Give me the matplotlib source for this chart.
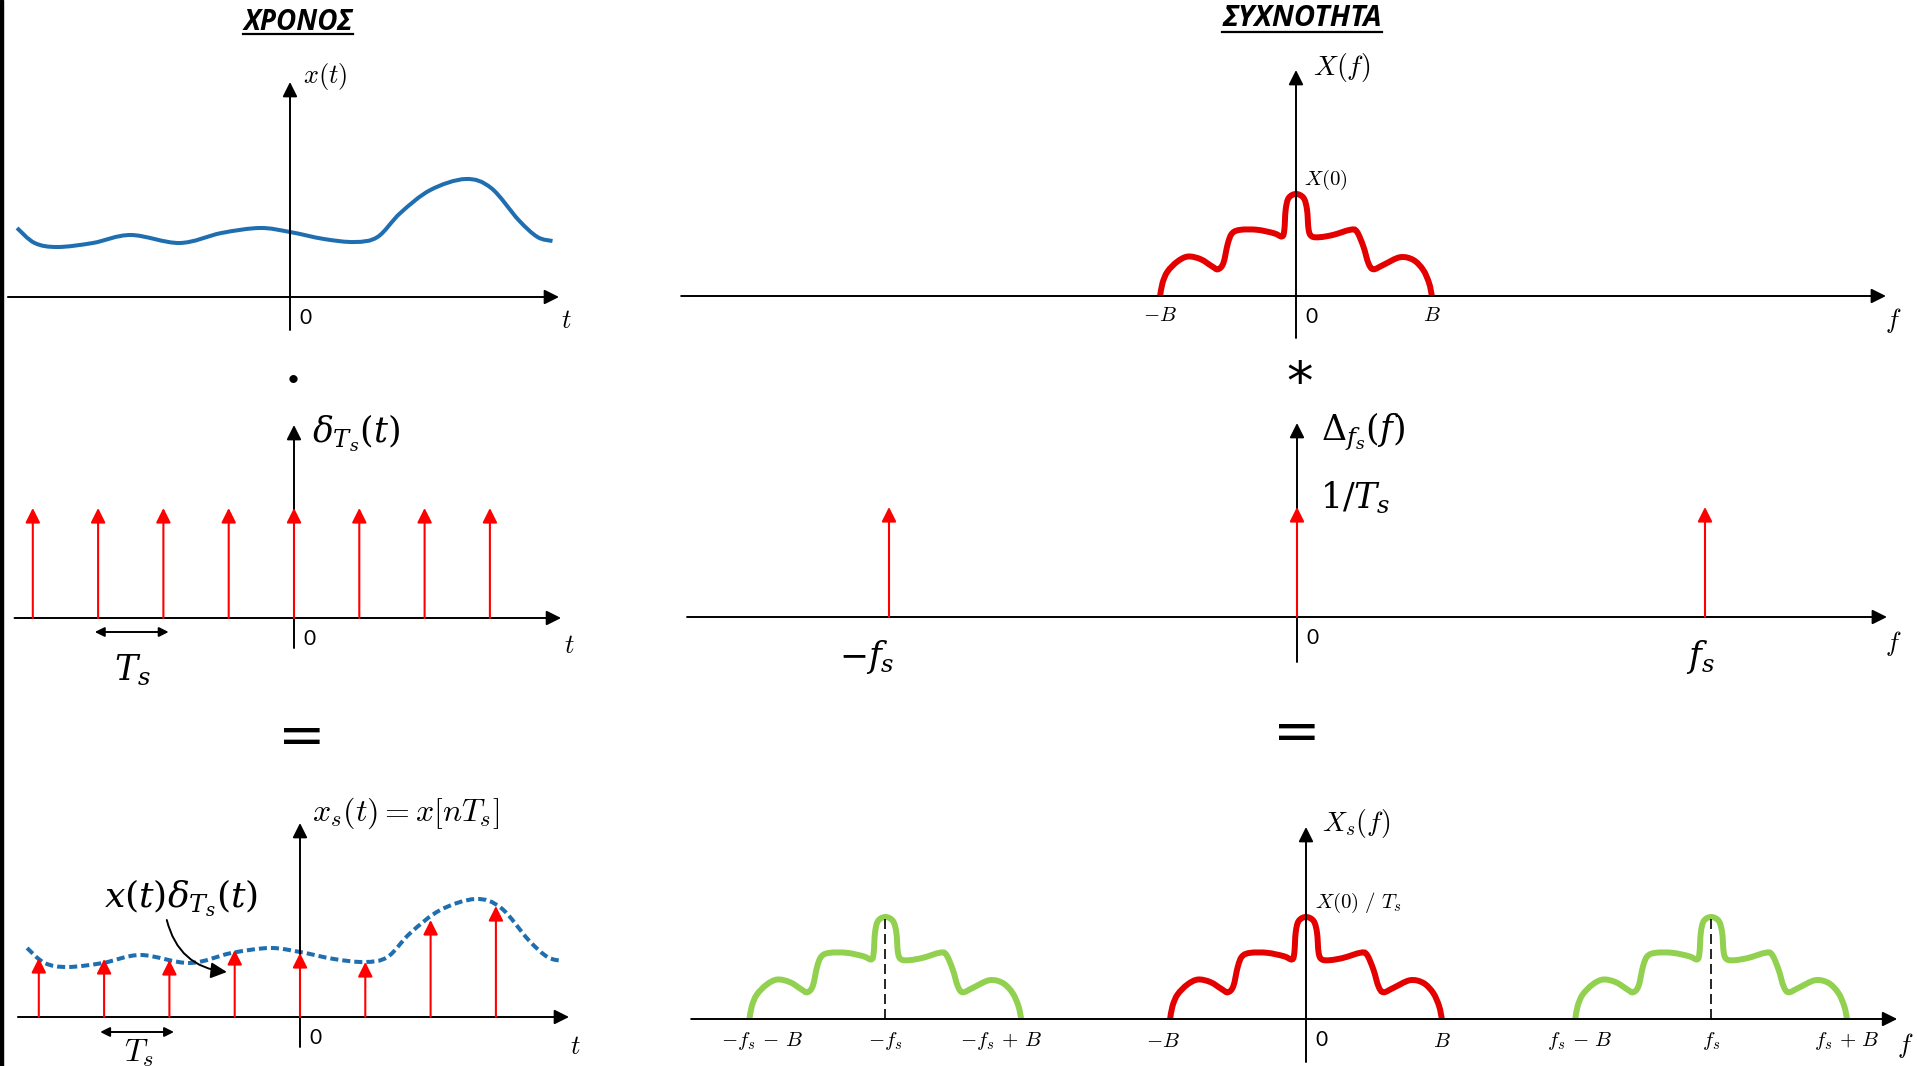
import numpy as np
import matplotlib
matplotlib.use('Agg')
import matplotlib.pyplot as plt
from matplotlib.path import Path
from matplotlib.patches import PathPatch, Rectangle
from matplotlib.lines import Line2D

W, H = 1917, 1066

# ---------------- data ----------------
# x(t): time in units of Ts, amplitude in arbitrary units
sig_t = [-4.18, -3.91, -3.56, -3.02, -2.44, -1.69, -1.05, -0.46, 0.0, 0.52,
         0.99, 1.34, 1.69, 2.15, 2.69, 3.08, 3.50, 3.79, 4.02]
sig_x = [0.69, 0.54, 0.50, 0.54, 0.62, 0.54, 0.64, 0.69, 0.65, 0.58,
         0.55, 0.60, 0.84, 1.07, 1.18, 1.09, 0.77, 0.60, 0.56]

# impulse train and samples
n_samp = [-4, -3, -2, -1, 0, 1, 2, 3]
samp_x = [0.59, 0.58, 0.57, 0.67, 0.64, 0.55, 0.97, 1.11]
comb_h = 1.10

# spectrum shape, u in units of B, v in units of the peak X(0)
spec_u = [-1.0, -0.983, -0.946, -0.873, -0.795, -0.702, -0.616, -0.575, -0.535,
          -0.501, -0.469, -0.408, -0.286, -0.164, -0.103, -0.086, -0.076, -0.054,
          0.0, 0.056, 0.081, 0.093, 0.117, 0.178, 0.276, 0.399, 0.447, 0.496,
          0.533, 0.570, 0.643, 0.765, 0.863, 0.936, 0.980, 1.0]
spec_v = [0.0, 0.125, 0.239, 0.338, 0.387, 0.361, 0.289, 0.262, 0.321,
          0.518, 0.616, 0.649, 0.649, 0.616, 0.584, 0.649, 0.846, 0.961,
          1.0, 0.961, 0.846, 0.649, 0.584, 0.577, 0.600, 0.649, 0.633, 0.485,
          0.321, 0.262, 0.305, 0.380, 0.354, 0.256, 0.125, 0.0]
peak = 1.02
B = 0.333                       # bandwidth in units of fs
delta_f = [-1, 0, 1]            # Δ_fs(f) impulses, units of fs
copy_c = [-1.031, 0.0, 0.993]   # spectral copies in Xs(f)
copy_col = ['#92d050', '#e50000', '#92d050']

tr_tick_pos = [-B, B]
tr_tick_lab = [r'$-B$', r'$B$']
br_tick_pos = [copy_c[0] - B, copy_c[0], copy_c[0] + B, -B, B,
               copy_c[2] - B, copy_c[2], copy_c[2] + B]
br_tick_lab = [r'$-f_s\,-\,B$', r'$-f_s$', r'$-f_s\,+\,B$', r'$-B$', r'$B$',
               r'$f_s\,-\,B$', r'$f_s$', r'$f_s\,+\,B$']
br_tick_dx = [0.03, 0, -0.05, -0.017, 0, 0.01, 0, 0]   # label nudges as drawn

BLUE = '#1f6fb0'
RED = '#ff0000'
SANS = ['Lato', 'DejaVu Sans']

fig = plt.figure(figsize=(W / 100, H / 100), dpi=100)
fig.add_artist(Rectangle((0, 0), 3 / W, 1, transform=fig.transFigure,
                         color='black'))


def panel(x0, y0, sx, sy, xlim, ylim):
    # data (0,0) lands on pixel (x0, y0), counted from the top-left corner
    l, r = x0 + xlim[0] * sx, x0 + xlim[1] * sx
    b, t = y0 - ylim[0] * sy, y0 - ylim[1] * sy
    ax = fig.add_axes([l / W, 1 - b / H, (r - l) / W, (b - t) / H])
    ax.set_xlim(*xlim)
    ax.set_ylim(*ylim)
    ax.set_axis_off()
    return ax


def arrow(ax, xy, xytext, color='black', lw=1.4, ms=22, style='-|>', **kw):
    ax.annotate('', xy=xy, xytext=xytext, annotation_clip=False,
                arrowprops=dict(arrowstyle=style, color=color, lw=lw,
                                mutation_scale=ms, shrinkA=0, shrinkB=0, **kw))


def axes_lines(ax, h0, h1, v0, v1):
    arrow(ax, (h1, 0), (h0, 0))
    arrow(ax, (0, v1), (0, v0))
    ax.annotate('0', xy=(0, 0), xytext=(15, -21), textcoords='offset pixels',
                ha='center', va='center', fontsize=15, family=SANS)


def smooth_path(xs, ys):
    # Catmull-Rom through the read points, drawn as Bezier segments
    p = np.column_stack([xs, ys])
    verts, codes = [p[0]], [Path.MOVETO]
    for i in range(len(p) - 1):
        p0 = p[i - 1] if i > 0 else p[i]
        p3 = p[i + 2] if i + 2 < len(p) else p[i + 1]
        verts += [p[i] + (p[i + 1] - p0) / 6, p[i + 1] - (p3 - p[i]) / 6, p[i + 1]]
        codes += [Path.CURVE4] * 3
    return Path(verts, codes)


def label(px, py, s, size=15, math='cm', **kw):
    return fig.text(px / W, 1 - py / H, s, ha='center', va='center',
                    fontsize=size, math_fontfamily=math, **kw)


# ---------------- time domain ----------------
sx_t, sy_t = 65.3, 100
ax1 = panel(290, 297, sx_t, sy_t, (-4.6, 4.6), (-0.5, 2.4))
axes_lines(ax1, -4.32, 4.12, -0.33, 2.15)
ax1.add_patch(PathPatch(smooth_path(sig_t, sig_x), fill=False, color=BLUE,
                        lw=2.9, clip_on=False))

ax2 = panel(294, 618, sx_t, sy_t, (-4.6, 4.6), (-0.5, 2.4))
axes_lines(ax2, -4.28, 4.09, -0.30, 1.93)
for n in n_samp:
    arrow(ax2, (n, comb_h), (n, 0), color=RED, lw=1.5)
arrow(ax2, (-1.92, -0.14), (-3.05, -0.14), lw=1.4, ms=14, style='<|-|>')

ax3 = panel(300, 1017, sx_t, sy_t, (-4.6, 4.6), (-0.5, 2.4))
axes_lines(ax3, -4.32, 4.12, -0.30, 1.94)
ax3.add_patch(PathPatch(smooth_path(sig_t, sig_x), fill=False, color=BLUE,
                        lw=2.9, ls=(0, (2, 1)), capstyle='butt', clip_on=False))
for n, v in zip(n_samp, samp_x):
    arrow(ax3, (n, v), (n, 0), color=RED, lw=1.5)
arrow(ax3, (-1.93, -0.15), (-3.06, -0.15), lw=1.4, ms=14, style='<|-|>')
arrow(ax3, (-1.12, 0.45), (-2.04, 0.97), lw=1.4, ms=24,
      connectionstyle='arc3,rad=0.35')

# ---------------- frequency domain ----------------
sx_f, sy_f = 408, 100
ax4 = panel(1296, 296, sx_f, sy_f, (-1.6, 1.6), (-0.5, 2.4))
axes_lines(ax4, -1.507, 1.446, -0.42, 2.26)
ax4.add_patch(PathPatch(smooth_path(np.array(spec_u) * B, np.array(spec_v) * peak),
                        fill=False, color='#e50000', lw=4.3, clip_on=False))
for p, s in zip(tr_tick_pos, tr_tick_lab):
    ax4.text(p, -0.19, s, ha='center', va='center', fontsize=15,
             math_fontfamily='cm')

ax5 = panel(1297, 617, sx_f, sy_f, (-1.6, 1.6), (-0.5, 2.4))
axes_lines(ax5, -1.495, 1.446, -0.45, 1.94)
for f in delta_f:
    arrow(ax5, (f, comb_h), (f, 0), color=RED, lw=1.5)

ax6 = panel(1306, 1019, sx_f, sy_f, (-1.6, 1.6), (-0.5, 2.4))
axes_lines(ax6, -1.507, 1.449, -0.43, 1.92)
for c, col in zip(copy_c, copy_col):
    ax6.add_patch(PathPatch(smooth_path(np.array(spec_u) * B + c,
                                        np.array(spec_v) * peak),
                            fill=False, color=col, lw=4.3, clip_on=False))
    if c != 0:
        ax6.plot([c, c], [0, peak], color='black', lw=1.2, ls=(0, (6, 3)),
                 clip_on=False)
for p, s, dx in zip(br_tick_pos, br_tick_lab, br_tick_dx):
    ax6.text(p + dx, -0.22, s, ha='center', va='center', fontsize=15,
             math_fontfamily='cm')

# ---------------- labels ----------------
label(325, 77, r'$x(t)$', 19)
label(566, 321, r'$t$', 19)
label(356, 433, r'$\delta_{T_s}(t)$', 25, math='dejavuserif')
label(569, 646, r'$t$', 19)
label(132, 670, r'$T_s$', 25, math='dejavuserif')
label(406, 813, r'$x_s(t) = x[nT_s]$', 23)
label(181, 898, r'$x(t)\delta_{T_s}(t)$', 26, math='dejavuserif')
label(575, 1047, r'$t$', 19)
fig.text(139 / W, 1 - 1062 / H, r'$T_s$', ha='center', va='baseline',
         fontsize=23, math_fontfamily='cm')

label(1342, 68, r'$X(f)$', 20)
label(1326, 180, r'$X(0)$', 15)
label(1893, 321, r'$f$', 19)
label(1363, 432, r'$\Delta_{f_s}(f)$', 25, math='dejavuserif')
label(1355, 498, r'$1/T_s$', 25, math='dejavuserif')
label(867, 657, r'$-f_s$', 25, math='dejavuserif')
label(1700, 657, r'$f_s$', 25, math='dejavuserif')
label(1893, 644, r'$f$', 19)
label(1356, 823, r'$X_s(f)$', 20)
label(1358, 903, r'$X(0)\ /\ T_s$', 15)
label(1905, 1046, r'$f$', 19)

# operators between the rows
label(293, 380, '•', 16, family=SANS)
label(302, 739, '=', 41, family='DejaVu Sans')
label(1300, 384, '*', 38, family='DejaVu Sans')
label(1297, 735, '=', 41, family='DejaVu Sans')

# titles, underlined
title_kw = dict(fontweight='bold', fontstyle='italic',
                family=['Open Sans', 'DejaVu Sans'])
t1 = label(298, 22, 'ΧΡΟΝΟΣ', 20, **title_kw)
t2 = label(1302, 18, 'ΣΥΧΝΟΤΗΤΑ', 21, **title_kw)
fig.canvas.draw()
for txt, uy in [(t1, 34), (t2, 32)]:
    bb = txt.get_window_extent()
    fig.add_artist(Line2D([bb.x0 / W, bb.x1 / W], [1 - uy / H] * 2,
                          transform=fig.transFigure, color='black', lw=1.6))

fig.savefig('out.png', dpi=100)
